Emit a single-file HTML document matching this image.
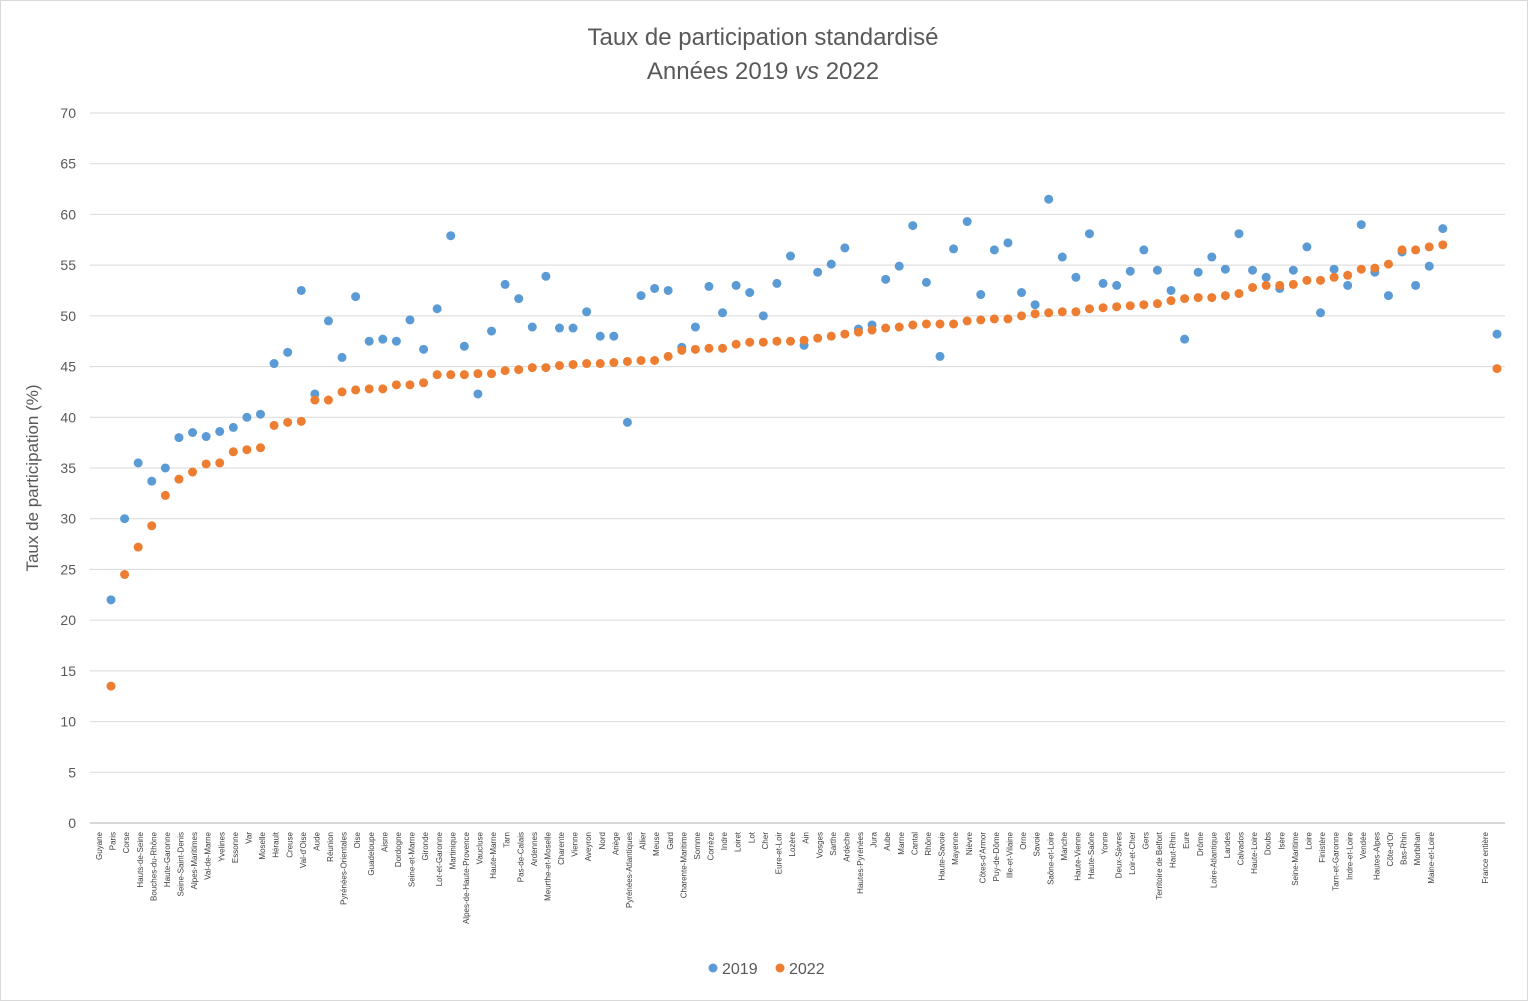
<!DOCTYPE html>
<html><head><meta charset="utf-8"><style>
html,body{margin:0;padding:0;background:#fff;}
svg{display:block;font-family:"Liberation Sans",sans-serif;}
</style></head><body>
<svg id="c" width="1528" height="1001" xmlns="http://www.w3.org/2000/svg">
<rect x="0.5" y="0.5" width="1527" height="1000" fill="#fff" stroke="#d9d9d9"/>
<text x="763" y="45" text-anchor="middle" font-size="24" fill="#595959">Taux de participation standardisé</text>
<text x="763" y="79" text-anchor="middle" font-size="24" fill="#595959">Années 2019 <tspan font-style="italic">vs</tspan> 2022</text>
<text transform="translate(38,478) rotate(-90)" text-anchor="middle" font-size="17" fill="#595959">Taux de participation (%)</text>
<g id="grid"></g>
<g id="yl" font-size="14" fill="#595959" text-anchor="end"></g>
<g id="xl" font-size="8" fill="#404040" text-anchor="end">
<text>Guyane</text><text>Paris</text><text>Corse</text><text>Hauts-de-Seine</text><text>Bouches-du-Rhône</text><text>Haute-Garonne</text><text>Seine-Saint-Denis</text><text>Alpes-Maritimes</text><text>Val-de-Marne</text><text>Yvelines</text><text>Essonne</text><text>Var</text><text>Moselle</text><text>Hérault</text><text>Creuse</text><text>Val-d'Oise</text><text>Aude</text><text>Réunion</text><text>Pyrénées-Orientales</text><text>Oise</text><text>Guadeloupe</text><text>Aisne</text><text>Dordogne</text><text>Seine-et-Marne</text><text>Gironde</text><text>Lot-et-Garonne</text><text>Martinique</text><text>Alpes-de-Haute-Provence</text><text>Vaucluse</text><text>Haute-Marne</text><text>Tarn</text><text>Pas-de-Calais</text><text>Ardennes</text><text>Meurthe-et-Moselle</text><text>Charente</text><text>Vienne</text><text>Aveyron</text><text>Nord</text><text>Ariège</text><text>Pyrénées-Atlantiques</text><text>Allier</text><text>Meuse</text><text>Gard</text><text>Charente-Maritime</text><text>Somme</text><text>Corrèze</text><text>Indre</text><text>Loiret</text><text>Lot</text><text>Cher</text><text>Eure-et-Loir</text><text>Lozère</text><text>Ain</text><text>Vosges</text><text>Sarthe</text><text>Ardèche</text><text>Hautes-Pyrénées</text><text>Jura</text><text>Aube</text><text>Marne</text><text>Cantal</text><text>Rhône</text><text>Haute-Savoie</text><text>Mayenne</text><text>Nièvre</text><text>Côtes-d'Armor</text><text>Puy-de-Dôme</text><text>Ille-et-Vilaine</text><text>Orne</text><text>Savoie</text><text>Saône-et-Loire</text><text>Manche</text><text>Haute-Vienne</text><text>Haute-Saône</text><text>Yonne</text><text>Deux-Sèvres</text><text>Loir-et-Cher</text><text>Gers</text><text>Territoire de Belfort</text><text>Haut-Rhin</text><text>Eure</text><text>Drôme</text><text>Loire-Atlantique</text><text>Landes</text><text>Calvados</text><text>Haute-Loire</text><text>Doubs</text><text>Isère</text><text>Seine-Maritime</text><text>Loire</text><text>Finistère</text><text>Tarn-et-Garonne</text><text>Indre-et-Loire</text><text>Vendée</text><text>Hautes-Alpes</text><text>Côte-d'Or</text><text>Bas-Rhin</text><text>Morbihan</text><text>Maine-et-Loire</text><text>France entière</text>
</g>
<g id="pts"></g>
<circle cx="713" cy="968" r="4.5" fill="#5B9BD5"/>
<text x="722" y="974" font-size="16" fill="#595959">2019</text>
<circle cx="780" cy="968" r="4.5" fill="#ED7D31"/>
<text x="789" y="974" font-size="16" fill="#595959">2022</text>
</svg>
<script>
var NS="http://www.w3.org/2000/svg";
function Y(v){return 823-10.143*v;}
var g=document.getElementById('grid'),yl=document.getElementById('yl');
for(var v=0;v<=70;v+=5){
 var l=document.createElementNS(NS,'line');
 l.setAttribute('x1',90);l.setAttribute('x2',1505);l.setAttribute('y1',Y(v));l.setAttribute('y2',Y(v));
 l.setAttribute('stroke',v==0?'#bfbfbf':'#d9d9d9');l.setAttribute('stroke-width',v==0?1.3:1);g.appendChild(l);
 var t=document.createElementNS(NS,'text');t.setAttribute('x',76);t.setAttribute('y',Y(v)+5);t.textContent=v;yl.appendChild(t);
}
var a=[[22,13.5],[30,24.5],[35.5,27.2],[33.7,29.3],[35,32.3],[38,33.9],[38.5,34.6],[38.1,35.4],[38.6,35.5],[39,36.6],[40,36.8],[40.3,37],[45.3,39.2],[46.4,39.5],[52.5,39.6],[42.3,41.7],[49.5,41.7],[45.9,42.5],[51.9,42.7],[47.5,42.8],[47.7,42.8],[47.5,43.2],[49.6,43.2],[46.7,43.4],[50.7,44.2],[57.9,44.2],[47,44.2],[42.3,44.3],[48.5,44.3],[53.1,44.6],[51.7,44.7],[48.9,44.9],[53.9,44.9],[48.8,45.1],[48.8,45.2],[50.4,45.3],[48,45.3],[48,45.4],[39.5,45.5],[52,45.6],[52.7,45.6],[52.5,46],[46.9,46.6],[48.9,46.7],[52.9,46.8],[50.3,46.8],[53,47.2],[52.3,47.4],[50,47.4],[53.2,47.5],[55.9,47.5],[47.1,47.6],[54.3,47.8],[55.1,48],[56.7,48.2],[48.7,48.4],[49.1,48.6],[53.6,48.8],[54.9,48.9],[58.9,49.1],[53.3,49.2],[46,49.2],[56.6,49.2],[59.3,49.5],[52.1,49.6],[56.5,49.7],[57.2,49.7],[52.3,50],[51.1,50.2],[61.5,50.3],[55.8,50.4],[53.8,50.4],[58.1,50.7],[53.2,50.8],[53,50.9],[54.4,51],[56.5,51.1],[54.5,51.2],[52.5,51.5],[47.7,51.7],[54.3,51.8],[55.8,51.8],[54.6,52],[58.1,52.2],[54.5,52.8],[53.8,53],[52.7,53],[54.5,53.1],[56.8,53.5],[50.3,53.5],[54.6,53.8],[53,54],[59,54.6],[54.3,54.7],[52,55.1],[56.3,56.5],[53,56.5],[54.9,56.8],[58.6,57],[48.2,44.8]];
var p=document.getElementById('pts');
var xl=document.getElementById('xl').getElementsByTagName('text');
for(var i=0;i<a.length;i++){
 var x=i<99?111+13.59*i:1497;
 xl[i].setAttribute('transform','translate('+(x-9)+',832) rotate(-90)');
 for(var s=0;s<2;s++){
  var c=document.createElementNS(NS,'circle');c.setAttribute('cx',x);c.setAttribute('cy',Y(a[i][s]));c.setAttribute('r',4.5);
  c.setAttribute('fill',s?'#ED7D31':'#5B9BD5');p.appendChild(c);
 }
}
</script>
</body></html>
